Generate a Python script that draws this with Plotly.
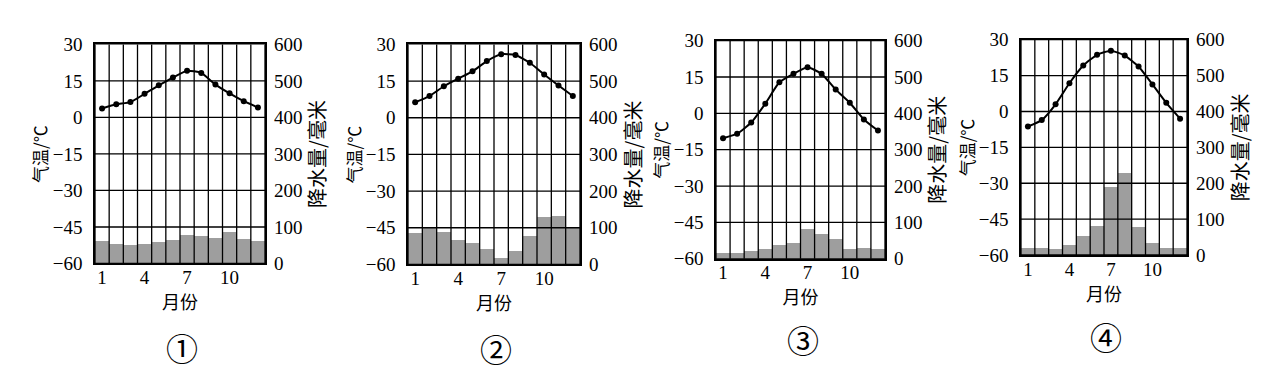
import plotly.graph_objects as go

months = list(range(1, 13))
month_ticks = [1, 4, 7, 10]
temp_ticks = [30, 15, 0, -15, -30, -45, -60]
prec_ticks = [0, 100, 200, 300, 400, 500, 600]
panel_labels = ["①", "②", "③", "④"]

temp1 = [3.7, 5.4, 6.3, 9.7, 13.2, 16.4, 19.2, 18.3, 13.5, 9.9, 6.7, 4.1]
prec1 = [60, 52, 49, 52, 59, 62, 78, 73, 69, 86, 67, 60]
temp2 = [6.4, 8.9, 12.9, 16.0, 19.0, 23.2, 26.0, 25.7, 22.5, 17.7, 13.2, 8.9]
prec2 = [84, 101, 86, 66, 58, 41, 15, 36, 75, 128, 131, 101]
temp3 = [-10.3, -8.4, -3.8, 4.0, 12.8, 16.3, 19.0, 16.3, 9.8, 4.4, -2.5, -7.1]
prec3 = [16, 18, 23, 28, 39, 44, 84, 69, 54, 28, 30, 28]
temp4 = [-6.3, -3.6, 3.0, 11.8, 19.2, 23.7, 25.4, 23.4, 18.8, 11.3, 3.6, -3.0]
prec4 = [21, 21, 18, 30, 53, 81, 191, 230, 79, 33, 19, 19]

temps = [temp1, temp2, temp3, temp4]
precs = [prec1, prec2, prec3, prec4]

W, H = 1265, 376
# pixel boxes of each plot area: (left, right, top, bottom)
boxes = [(87, 257, 28, 260), (400, 572, 28, 261), (708, 877, 24, 255), (1013, 1179, 23, 251)]
label_y = [348, 349, 340, 337]

NUM_FONT = "Liberation Serif, serif"
CJK_FONT = "Noto Sans CJK SC"

fig = go.Figure()
layout = dict(
    width=W, height=H, margin=dict(l=0, r=0, t=0, b=0),
    paper_bgcolor="white", plot_bgcolor="white", showlegend=False,
    bargap=0, font=dict(family=NUM_FONT, color="black", size=19),
)
shapes = []
annotations = []

for i in range(4):
    n = i + 1
    xa = "x" if n == 1 else f"x{n}"
    ya = "y" if n == 1 else f"y{n}"
    yb = f"y{n + 4}"
    l, r, t, b = boxes[i]
    xd = [l / W, r / W]
    yd = [1 - b / H, 1 - t / H]

    fig.add_trace(go.Bar(x=months, y=precs[i], xaxis=xa, yaxis=yb, width=1,
                         marker=dict(color="#9e9e9e", line=dict(width=0))))
    fig.add_trace(go.Scatter(x=months, y=temps[i], xaxis=xa, yaxis=ya, mode="lines+markers",
                             line=dict(color="black", width=2, shape="spline", smoothing=0.5),
                             marker=dict(color="black", size=6)))

    layout[f"xaxis{'' if n == 1 else n}"] = dict(
        domain=xd, anchor=ya, range=[0.5, 12.5], tickvals=month_ticks,
        showgrid=False, zeroline=False, showline=True, mirror=True, linecolor="black",
        linewidth=1.5, ticks="", ticklabelstandoff=-4,
        tickfont=dict(family=NUM_FONT, size=19),
        title=dict(text="月份", font=dict(family=CJK_FONT, size=18), standoff=0),
        fixedrange=True,
    )
    layout[f"yaxis{'' if n == 1 else n}"] = dict(
        domain=yd, anchor=xa, range=[-60, 30], tickvals=temp_ticks,
        showgrid=False, zeroline=False, showline=True, mirror=True, linecolor="black",
        linewidth=1.5, ticks="", ticklabelstandoff=7,
        tickfont=dict(family=NUM_FONT, size=19),
    )
    layout[f"yaxis{n + 4}"] = dict(
        domain=yd, anchor=xa, overlaying=ya, side="right", range=[0, 600],
        tickvals=prec_ticks, showgrid=False, zeroline=False, showline=False,
        ticks="", ticklabelstandoff=8, tickfont=dict(family=NUM_FONT, size=19),
    )

    # grid lines drawn above the bars
    for k in range(13):
        shapes.append(dict(type="line", xref=xa, yref=f"{ya} domain", x0=k + 0.5, x1=k + 0.5,
                           y0=0, y1=1, layer="above", line=dict(color="black", width=1.3)))
    for v in temp_ticks:
        shapes.append(dict(type="line", xref=f"{xa} domain", yref=ya, x0=0, x1=1,
                           y0=v, y1=v, layer="above", line=dict(color="black", width=1.3)))

    annotations.append(dict(text="气温/℃", xref=f"{xa} domain", yref=f"{ya} domain",
                            x=0, y=0.5, xshift=-55, xanchor="center", yanchor="middle",
                            textangle=-90, showarrow=False,
                            font=dict(family=CJK_FONT, size=17)))
    annotations.append(dict(text="降水量/毫米", xref=f"{xa} domain", yref=f"{ya} domain",
                            x=1, y=0.5, xshift=52, xanchor="center", yanchor="middle",
                            textangle=-90, showarrow=False,
                            font=dict(family=CJK_FONT, size=20)))
    annotations.append(dict(text=panel_labels[i], xref=f"{xa} domain", yref="paper",
                            x=0.5, xshift=2, y=1 - label_y[i] / H, xanchor="center",
                            yanchor="middle", showarrow=False,
                            font=dict(family=CJK_FONT, size=32)))

layout["shapes"] = shapes
layout["annotations"] = annotations
fig.update_layout(**layout)
fig.write_html("out.html")
